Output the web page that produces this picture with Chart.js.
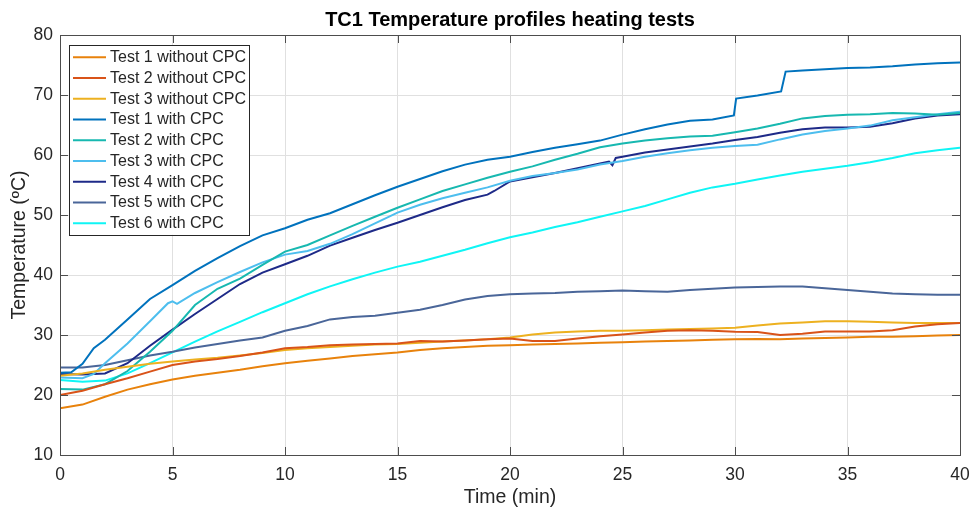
<!DOCTYPE html>
<html>
<head>
<meta charset="utf-8">
<title>TC1 Temperature profiles heating tests</title>
<script src="https://cdn.jsdelivr.net/npm/chart.js@4.4.1/dist/chart.umd.min.js"></script>
<style>
  body { margin: 0; background: #fff; }
  #wrap { width: 972px; height: 508px; }
</style>
</head>
<body>
<div id="wrap"><canvas id="tcChart" width="972" height="508"></canvas></div>
<script>
// time base (min) shared by the smoother runs
const minutes = [0, 1, 2, 3, 4, 5, 6, 7, 8, 9, 10, 11, 12, 13, 14, 15, 16, 17, 18, 19, 20,
    21, 22, 23, 24, 25, 26, 27, 28, 29, 30, 31, 32, 33, 34, 35, 36, 37, 38, 39, 40];

// TC1 temperatures (ºC), tests without CPC
const test1NoCpc = [17.8, 18.4, 19.7, 20.9, 21.8, 22.6, 23.2, 23.7, 24.2, 24.8, 25.3,
    25.7, 26.1, 26.5, 26.8, 27.1, 27.5, 27.8, 28.0, 28.2, 28.3, 28.4, 28.5, 28.6, 28.7, 28.8,
    28.9, 29.0, 29.1, 29.2, 29.3, 29.35, 29.3, 29.4, 29.5, 29.6, 29.7, 29.7, 29.8, 29.9, 30.0];
const test2NoCpc = [20.0, 20.7, 21.8, 22.8, 23.9, 25.0, 25.6, 26.0, 26.5, 27.1, 27.8,
    28.0, 28.3, 28.4, 28.5, 28.6, 29.0, 28.9, 29.1, 29.3, 29.4, 29.0, 29.0, 29.4, 29.8, 30.1,
    30.4, 30.7, 30.8, 30.7, 30.55, 30.5, 30.0, 30.2, 30.6, 30.6, 30.6, 30.8, 31.4, 31.8, 32.0];
const test3NoCpc = [23.2, 23.6, 24.2, 24.7, 25.2, 25.6, 25.9, 26.2, 26.6, 27.0, 27.5,
    27.8, 28.0, 28.2, 28.4, 28.5, 28.7, 28.9, 29.1, 29.3, 29.6, 30.1, 30.4, 30.6, 30.7, 30.7,
    30.8, 30.9, 31.0, 31.1, 31.2, 31.6, 31.9, 32.1, 32.3, 32.3, 32.2, 32.1, 32.0, 32.0, 32.0];

// tests with CPC
const test1CpcMinutes = [0, 0.5, 1, 1.5, 2, 3, 4, 5, 6, 7, 8, 9, 10, 11, 12, 13, 14, 15, 16,
    17, 18, 19, 20, 21, 22, 23, 24, 25, 26, 27, 28, 29, 29.95, 30.05, 31, 32.05, 32.25, 33,
    34, 35, 36, 37, 38, 39, 40];
const test1Cpc = [23.7, 23.8, 25.2, 27.8, 29.2, 32.6, 36.0, 38.3, 40.7, 42.8, 44.8, 46.6,
    47.8, 49.2, 50.3, 51.8, 53.3, 54.7, 56.0, 57.3, 58.4, 59.2, 59.7, 60.5, 61.2, 61.8, 62.4,
    63.4, 64.3, 65.1, 65.7, 65.9, 66.6, 69.4, 69.9, 70.6, 73.9, 74.1, 74.3, 74.5, 74.6, 74.8,
    75.1, 75.3, 75.4];
const test2Cpc = [21.0, 20.9, 21.8, 24.0, 27.2, 30.7, 35.0, 37.7, 39.4, 41.7, 43.9,
    45.0, 46.6, 48.2, 49.7, 51.2, 52.6, 54.0, 55.1, 56.2, 57.2, 58.1, 59.2, 60.2, 61.3, 61.9,
    62.4, 62.8, 63.1, 63.2, 63.8, 64.4, 65.2, 66.1, 66.5, 66.7, 66.8, 67.0, 66.9, 66.7, 67.0];
const test3CpcMinutes = [0, 1, 1.5, 2, 3, 4, 4.8, 5, 5.2, 6, 7, 8, 9, 10, 11, 12, 13, 14,
    15, 16, 17, 18, 19, 20, 21, 22, 23, 24, 25, 26, 27, 28, 29, 30, 31, 32, 33, 34, 35, 36,
    37, 38, 39, 40];
const test3Cpc = [22.9, 22.8, 23.5, 25.3, 28.6, 32.3, 35.3, 35.6, 35.2, 37.0, 38.8, 40.5,
    42.1, 43.4, 44.0, 45.2, 46.8, 48.6, 50.4, 51.7, 52.8, 53.7, 54.6, 55.7, 56.5, 57.0, 57.6,
    58.4, 59.0, 59.7, 60.3, 60.8, 61.2, 61.5, 61.7, 62.6, 63.4, 64.0, 64.4, 64.9, 65.8, 66.3,
    66.8, 67.2];
const test4CpcMinutes = [0, 1, 2, 3, 4, 5, 6, 7, 8, 9, 10, 11, 12, 13, 14, 15, 16, 17, 18,
    19, 19.3, 20, 21, 22, 23, 24, 24.4, 24.55, 24.7, 25, 26, 27, 28, 29, 30, 31, 32, 33, 34,
    35, 36, 37, 38, 39, 40];
const test4Cpc = [23.5, 23.4, 23.6, 25.3, 28.2, 30.9, 33.5, 36.0, 38.5, 40.4, 41.8, 43.2,
    44.9, 46.2, 47.5, 48.7, 50.0, 51.3, 52.5, 53.4, 54.0, 55.6, 56.3, 57.0, 57.8, 58.6, 58.9,
    58.3, 59.5, 59.7, 60.4, 60.9, 61.4, 61.9, 62.5, 63.0, 63.7, 64.3, 64.6, 64.6, 64.7, 65.3,
    66.1, 66.6, 66.8];
const test5Cpc = [24.6, 24.6, 25.0, 25.8, 26.6, 27.2, 27.9, 28.5, 29.1, 29.6, 30.7,
    31.5, 32.6, 33.0, 33.2, 33.7, 34.2, 35.0, 35.9, 36.5, 36.8, 36.9, 37.0, 37.2, 37.3, 37.4,
    37.3, 37.2, 37.5, 37.7, 37.9, 38.0, 38.1, 38.1, 37.8, 37.5, 37.2, 36.9, 36.8, 36.7, 36.7];
const test6Cpc = [22.5, 22.2, 22.4, 23.6, 25.3, 27.1, 28.9, 30.6, 32.2, 33.8, 35.3,
    36.8, 38.1, 39.3, 40.4, 41.4, 42.2, 43.2, 44.2, 45.3, 46.3, 47.1, 48.0, 48.8, 49.7, 50.6,
    51.5, 52.6, 53.7, 54.6, 55.2, 55.9, 56.6, 57.2, 57.7, 58.2, 58.8, 59.5, 60.3, 60.8, 61.2];

const xTicks = [0, 5, 10, 15, 20, 25, 30, 35, 40];
const yTicks = [10, 20, 30, 40, 50, 60, 70, 80];
const chartTitle = 'TC1 Temperature profiles heating tests';

const FONT = "'Liberation Sans', Arial, Helvetica, sans-serif";
const INK = '#262626';

function pts(xs, ys) {
    return xs.map(function (t, i) { return { x: t, y: ys[i] }; });
}

function series(label, xs, ys, color) {
    return {
        label: label,
        data: pts(xs, ys),
        borderColor: color,
        backgroundColor: color,
        borderWidth: 2,
        pointRadius: 0,
        tension: 0,
        fill: false
    };
}

// axes box with inward tick marks, title over the axes, legend inside the plot
const matlabAxes = {
    id: 'matlabAxes',
    afterDatasetsDraw(chart) {
        const ctx = chart.ctx;
        const a = chart.chartArea;
        const xs = chart.scales.x;
        const ys = chart.scales.y;
        const len = 8;
        ctx.save();
        ctx.strokeStyle = '#4d4d4d';
        ctx.lineWidth = 1;
        ctx.beginPath();
        xTicks.forEach(function (v) {
            const px = Math.round(xs.getPixelForValue(v)) + 0.5;
            ctx.moveTo(px, a.bottom); ctx.lineTo(px, a.bottom - len);
            ctx.moveTo(px, a.top); ctx.lineTo(px, a.top + len);
        });
        yTicks.forEach(function (v) {
            const py = Math.round(ys.getPixelForValue(v)) + 0.5;
            ctx.moveTo(a.left, py); ctx.lineTo(a.left + len, py);
            ctx.moveTo(a.right, py); ctx.lineTo(a.right - len, py);
        });
        ctx.stroke();
        ctx.strokeRect(Math.round(a.left) + 0.5, Math.round(a.top) + 0.5,
            Math.round(a.right - a.left), Math.round(a.bottom - a.top));

        ctx.fillStyle = '#000';
        ctx.font = 'bold 20px ' + FONT;
        ctx.textAlign = 'center';
        ctx.textBaseline = 'middle';
        ctx.fillText(chartTitle, (a.left + a.right) / 2, 20);
        ctx.restore();
    },
    afterDraw(chart) {
        const ctx = chart.ctx;
        const a = chart.chartArea;
        const sets = chart.data.datasets;
        const bx = a.left + 9, by = a.top + 10, bw = 180, rowH = 20.75;
        const bh = rowH * sets.length + 3;
        ctx.save();
        ctx.fillStyle = '#fff';
        ctx.fillRect(bx, by, bw, bh);
        ctx.strokeStyle = INK;
        ctx.lineWidth = 1;
        ctx.strokeRect(Math.round(bx) + 0.5, Math.round(by) + 0.5, bw, Math.round(bh));
        ctx.font = '16px ' + FONT;
        ctx.textBaseline = 'middle';
        ctx.fillStyle = INK;
        sets.forEach(function (ds, i) {
            const cy = by + 12.3 + i * rowH;
            ctx.strokeStyle = ds.borderColor;
            ctx.lineWidth = 2;
            ctx.beginPath();
            ctx.moveTo(bx + 4, cy);
            ctx.lineTo(bx + 37, cy);
            ctx.stroke();
            ctx.fillText(ds.label, bx + 41, cy + 0.5);
        });
        ctx.restore();
    }
};

new Chart(document.getElementById('tcChart'), {
    type: 'line',
    data: {
        datasets: [
            series('Test 1 without CPC', minutes, test1NoCpc, '#E8820C'),
            series('Test 2 without CPC', minutes, test2NoCpc, '#D95319'),
            series('Test 3 without CPC', minutes, test3NoCpc, '#EDB120'),
            series('Test 1 with CPC', test1CpcMinutes, test1Cpc, '#0072BD'),
            series('Test 2 with CPC', minutes, test2Cpc, '#17B8B0'),
            series('Test 3 with CPC', test3CpcMinutes, test3Cpc, '#4DBEEE'),
            series('Test 4 with CPC', test4CpcMinutes, test4Cpc, '#1E2A88'),
            series('Test 5 with CPC', minutes, test5Cpc, '#4A6699'),
            series('Test 6 with CPC', minutes, test6Cpc, '#0FF5F5')
        ]
    },
    options: {
        responsive: false,
        animation: false,
        layout: { padding: { left: 0, right: 12, top: 35, bottom: 0 } },
        plugins: {
            legend: { display: false },
            tooltip: { enabled: false },
            title: { display: false }
        },
        scales: {
            x: {
                type: 'linear',
                min: 0,
                max: 40,
                afterFit: function (s) {
                    s.height = 53;
                    s.paddingLeft = 0;
                    s.paddingRight = 0;
                },
                afterBuildTicks: function (s) { s.ticks = xTicks.map(function (v) { return { value: v }; }); },
                grid: { color: '#e0e0e0', drawTicks: false },
                border: { display: false },
                ticks: { color: INK, font: { family: FONT, size: 17.5 }, padding: 10, maxRotation: 0 },
                title: {
                    display: true,
                    text: 'Time (min)',
                    color: INK,
                    font: { family: FONT, size: 19.5 },
                    padding: { top: 0, bottom: -1 }
                }
            },
            y: {
                type: 'linear',
                min: 10,
                max: 80,
                afterFit: function (s) {
                    s.width = 60;
                    s.paddingTop = 0;
                    s.paddingBottom = 0;
                },
                afterBuildTicks: function (s) { s.ticks = yTicks.map(function (v) { return { value: v }; }); },
                grid: { color: '#e0e0e0', drawTicks: false },
                border: { display: false },
                ticks: { color: INK, font: { family: FONT, size: 17.5 }, padding: 7 },
                title: {
                    display: true,
                    text: 'Temperature (ºC)',
                    color: INK,
                    font: { family: FONT, size: 19.5 },
                    padding: { top: 8, bottom: 0 }
                }
            }
        }
    },
    plugins: [matlabAxes]
});
</script>
</body>
</html>
